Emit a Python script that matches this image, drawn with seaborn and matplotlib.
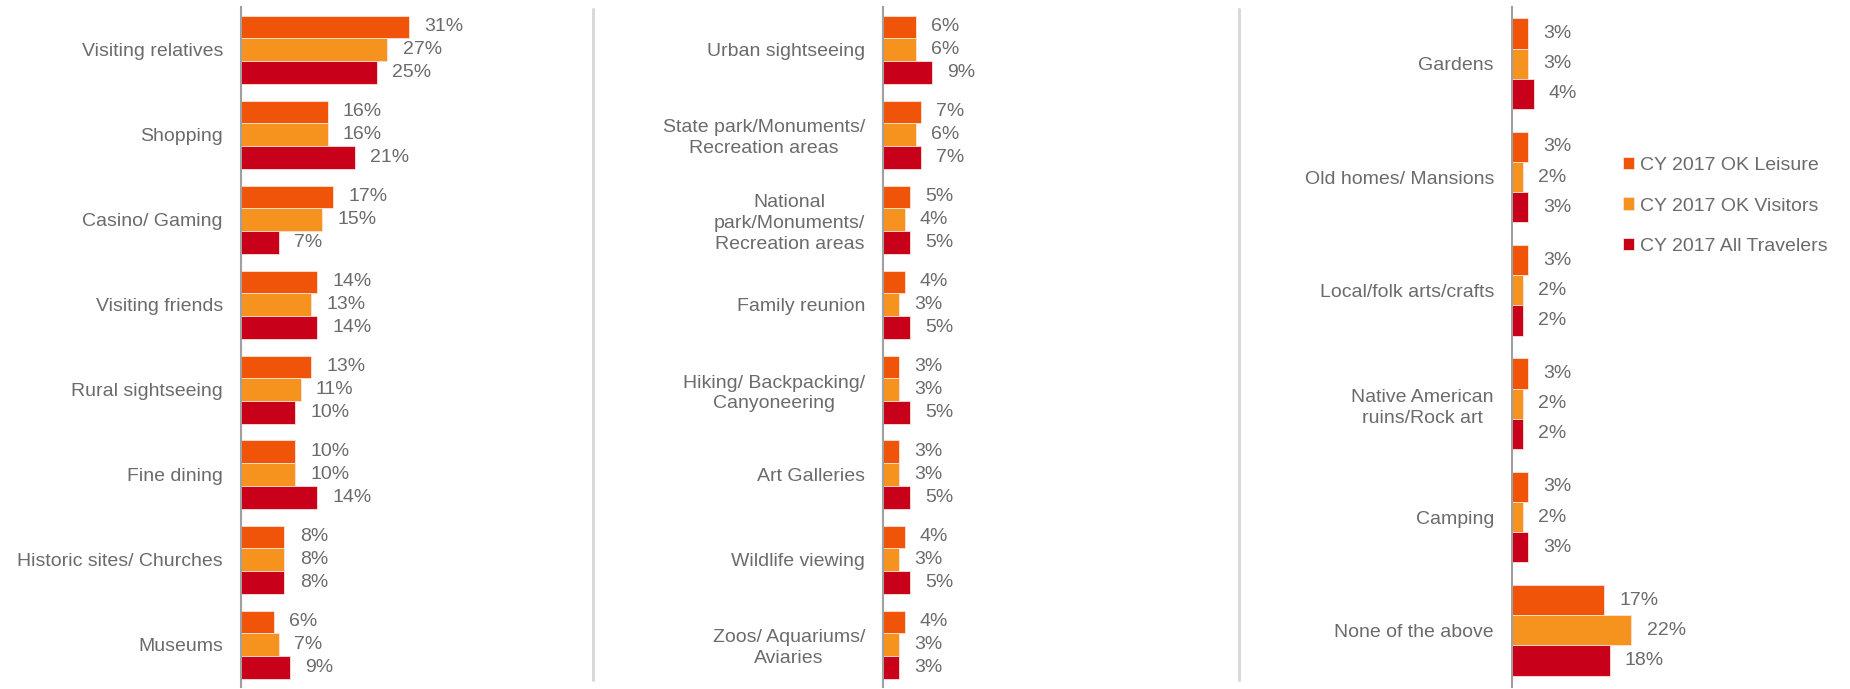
import matplotlib
matplotlib.use("Agg")
import matplotlib.pyplot as plt
import matplotlib.lines as mlines
import seaborn as sns
import pandas as pd

sns.set_theme(style="white")
plt.rcParams["font.family"] = ["Liberation Sans", "DejaVu Sans"]

series = ["CY 2017 OK Leisure", "CY 2017 OK Visitors", "CY 2017 All Travelers"]
colors = ["#F05408", "#F6921E", "#C8001A"]

cats_1 = ["Visiting relatives", "Shopping", "Casino/ Gaming", "Visiting friends",
          "Rural sightseeing", "Fine dining", "Historic sites/ Churches", "Museums"]
leisure_1 = [31, 16, 17, 14, 13, 10, 8, 6]
visitors_1 = [27, 16, 15, 13, 11, 10, 8, 7]
all_1 = [25, 21, 7, 14, 10, 14, 8, 9]

cats_2 = ["Urban sightseeing", "State park/Monuments/\nRecreation areas",
          "National\npark/Monuments/\nRecreation areas", "Family reunion",
          "Hiking/ Backpacking/\nCanyoneering", "Art Galleries", "Wildlife viewing",
          "Zoos/ Aquariums/\nAviaries"]
leisure_2 = [6, 7, 5, 4, 3, 3, 4, 4]
visitors_2 = [6, 6, 4, 3, 3, 3, 3, 3]
all_2 = [9, 7, 5, 5, 5, 5, 5, 3]

cats_3 = ["Gardens", "Old homes/ Mansions", "Local/folk arts/crafts",
          "Native American\nruins/Rock art", "Camping", "None of the above"]
leisure_3 = [3, 3, 3, 3, 3, 17]
visitors_3 = [3, 2, 2, 2, 2, 22]
all_3 = [4, 3, 2, 2, 3, 18]

TEXT = "#6B6B6B"
W, H = 1850, 689
fig = plt.figure(figsize=(W / 100, H / 100), dpi=100)

PX_PER_PCT = 5.42
AX_W = 330


def long_table(cats, a, b, c):
    rows = []
    for name, vals in zip(series, (a, b, c)):
        for cat, v in zip(cats, vals):
            rows.append({"activity": cat, "series": name, "pct": v})
    return pd.DataFrame(rows)


def panel(left_px, cats, a, b, c, show_legend=False):
    ax = fig.add_axes([left_px / W, 2 / H, AX_W / W, 680 / H])
    df = long_table(cats, a, b, c)
    sns.barplot(data=df, y="activity", x="pct", hue="series", hue_order=series,
                palette=colors, saturation=1, orient="h", width=0.8, ax=ax,
                edgecolor="#FBE3DA", linewidth=0.6, legend=show_legend)
    for cont in ax.containers:
        ax.bar_label(cont, fmt="%g%%", padding=11, fontsize=14, color=TEXT)
    ax.set_xlim(0, AX_W / PX_PER_PCT)
    ax.set_ylim(len(cats) - 0.5, -0.5)
    ax.set_xlabel("")
    ax.set_ylabel("")
    ax.set_xticks([])
    for s in ("top", "right", "bottom"):
        ax.spines[s].set_visible(False)
    ax.spines["left"].set_color("#A0A0A0")
    ax.spines["left"].set_linewidth(1.5)
    ax.tick_params(axis="y", length=0, pad=13, labelsize=14, labelcolor=TEXT)
    for t in ax.get_yticklabels():
        t.set_multialignment("center")
        t.set_linespacing(1.3)
    ax.patch.set_alpha(0)
    return ax


ax1 = panel(241, cats_1, leisure_1, visitors_1, all_1)
ax2 = panel(883, cats_2, leisure_2, visitors_2, all_2)
ax3 = panel(1512, cats_3, leisure_3, visitors_3, all_3, show_legend=True)

handles, labels = ax3.get_legend_handles_labels()
ax3.get_legend().remove()
fig.legend(handles, labels, loc="center left",
           bbox_to_anchor=(1615 / W, 1 - 206 / H), frameon=False,
           fontsize=14, labelcolor=TEXT, handlelength=0.6, handleheight=0.6,
           handletextpad=0.3, labelspacing=1.2, borderaxespad=0)

# light dividers between the three panels
for xp in (593, 1239):
    fig.add_artist(mlines.Line2D([xp / W, xp / W], [1 - 9 / H, 1 - 680 / H],
                                 color="#D9D9D9", linewidth=2.2))

fig.savefig("out.png", dpi=100, facecolor="white")
